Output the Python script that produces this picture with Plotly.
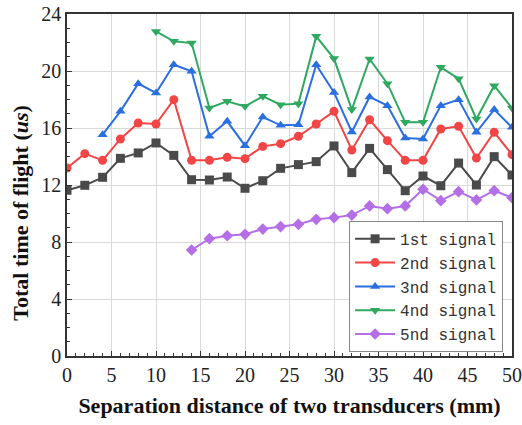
import plotly.graph_objects as go

x_all = list(range(0, 51, 2))

s1 = [11.63, 11.98, 12.54, 13.87, 14.25, 14.95, 14.08, 12.37, 12.35, 12.56, 11.77, 12.30, 13.17,
      13.43, 13.64, 14.74, 12.87, 14.57, 13.08, 11.60, 12.63, 11.95, 13.54, 12.00, 13.99, 12.70]
s2 = [13.19, 14.20, 13.73, 15.23, 16.35, 16.28, 17.99, 13.73, 13.73, 13.94, 13.85, 14.71, 14.90,
      15.42, 16.28, 17.17, 14.46, 16.58, 15.11, 13.73, 13.73, 15.93, 16.12, 13.89, 15.70, 14.13]
x3 = list(range(4, 51, 2))
s3 = [15.53, 17.17, 19.11, 18.46, 20.44, 19.98, 15.42, 16.47, 14.76, 16.77, 16.19, 16.23,
      20.44, 18.50, 15.72, 18.18, 17.57, 15.30, 15.23, 17.57, 17.99, 15.70, 17.29, 16.05]
x4 = list(range(10, 51, 2))
s4 = [22.78, 22.08, 21.96, 17.40, 17.87, 17.52, 18.22, 17.64, 17.71, 22.43, 20.87, 17.29,
      20.84, 19.11, 16.40, 16.40, 20.26, 19.46, 16.63, 18.97, 17.40]
x5 = list(range(14, 51, 2))
s5 = [7.44, 8.23, 8.44, 8.54, 8.91, 9.08, 9.24, 9.59, 9.71, 9.89, 10.53, 10.34, 10.53,
      11.70, 10.90, 11.53, 10.95, 11.60, 11.11]

names = ["1st signal", "2nd signal", "3nd signal", "4nd signal", "5nd signal"]
colors = ["#4a4a4a", "#f24545", "#2a6fe0", "#2fa860", "#b46ee6"]
symbols = ["square", "circle", "triangle-up", "triangle-down", "diamond"]
xs = [x_all, x_all, x3, x4, x5]
ys = [s1, s2, s3, s4, s5]

fig = go.Figure()
for n, c, sym, xx, yy in zip(names, colors, symbols, xs, ys):
    fig.add_trace(go.Scatter(x=xx, y=yy, name=n, mode="lines+markers",
                             line=dict(color=c, width=2),
                             marker=dict(color=c, symbol=sym, size=9)))

serif = "Liberation Serif"
axis_common = dict(showline=True, linecolor="#333333", linewidth=1.5, mirror=True,
                   ticks="inside", ticklen=5, tickcolor="#333333", automargin=False,
                   showgrid=True, gridcolor="#d9d9d9", gridwidth=1, zeroline=False,
                   tickfont=dict(family=serif, size=20, color="#222222"),
                   minor=dict(ticks="inside", ticklen=3, tickcolor="#333333", showgrid=False))

fig.update_xaxes(range=[0, 50], dtick=5, **axis_common,
                 title=dict(text="<b>Separation distance of two transducers (mm)</b>",
                            font=dict(family=serif, size=22, color="#111111"), standoff=13))
fig.update_yaxes(range=[0, 24], dtick=4, **axis_common)

fig.add_annotation(text="<b>Total time of flight (<i>us</i>)</b>", textangle=-90,
                   xref="paper", yref="paper", x=-0.105, y=0.42,
                   xanchor="center", yanchor="middle", showarrow=False,
                   font=dict(family=serif, size=22, color="#111111"))

fig.update_layout(
    width=522, height=425,
    margin=dict(l=67, r=10, t=14, b=69),
    plot_bgcolor="white", paper_bgcolor="white",
    legend=dict(x=0.98, y=0.012, xanchor="right", yanchor="bottom",
                bgcolor="white", bordercolor="#888888", borderwidth=1,
                font=dict(family="Liberation Mono", size=16, color="#333333"),
                tracegroupgap=0, itemwidth=40),
)

fig.write_html("out.html")
